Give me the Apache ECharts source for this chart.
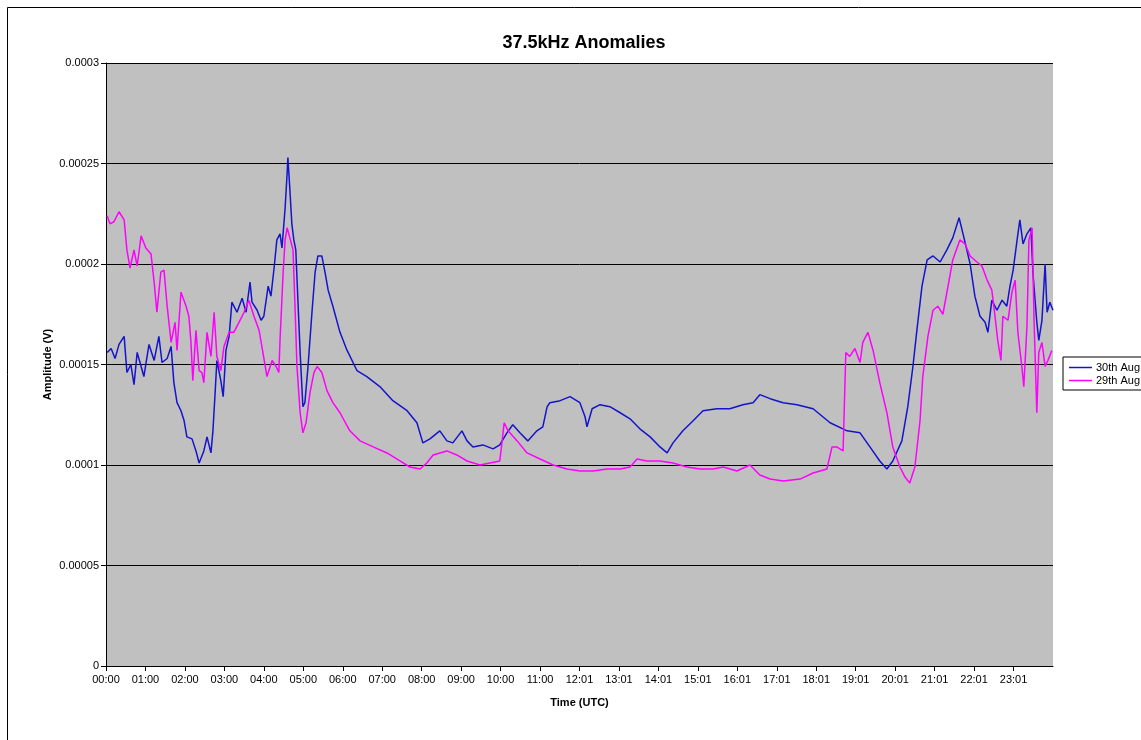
<!DOCTYPE html>
<html>
<head>
<meta charset="utf-8">
<script src="https://cdn.jsdelivr.net/npm/echarts@6/dist/echarts.min.js"></script>
<style>
html,body{margin:0;padding:0;background:#fff;}
#chart{width:1141px;height:740px;}
</style>
</head>
<body>
<div id="chart"></div>
<script>
// Tick labels
var xTickLabels = ['00:00','01:00','02:00','03:00','04:00','05:00','06:00','07:00','08:00','09:00','10:00','11:00',
  '12:01','13:01','14:01','15:01','16:01','17:01','18:01','19:01','20:01','21:01','22:01','23:01'];
var yTickLabels = ['0','0.00005','0.0001','0.00015','0.0002','0.00025','0.0003'];

// 30th Aug: time (hours UTC) and amplitude (microvolts)
var aug30Time = [0.03,0.13,0.23,0.33,0.46,0.53,0.63,0.71,0.79,0.89,0.96,1.09,1.22,1.34,1.42,1.55,1.65,1.72,1.80,1.90,
  1.98,2.05,2.18,2.28,2.36,2.48,2.56,2.66,2.71,2.76,2.81,2.91,2.97,3.04,3.12,3.19,3.32,3.45,3.55,3.65,
  3.70,3.83,3.93,4.00,4.11,4.18,4.26,4.33,4.41,4.46,4.54,4.59,4.61,4.66,4.71,4.76,4.81,4.87,4.92,4.99,
  5.04,5.12,5.22,5.30,5.37,5.47,5.55,5.63,5.75,5.93,6.11,6.36,6.61,6.94,7.27,7.63,7.88,8.03,8.21,8.46,
  8.64,8.79,9.02,9.15,9.30,9.55,9.81,9.98,10.16,10.31,10.49,10.69,10.92,11.07,11.18,11.25,11.51,11.76,12.01,12.14,
  12.19,12.32,12.52,12.77,13.03,13.28,13.53,13.79,14.04,14.22,14.37,14.62,14.88,15.13,15.48,15.81,16.14,16.40,16.57,16.83,
  17.16,17.51,17.92,18.35,18.78,19.11,19.36,19.61,19.79,19.94,20.17,20.32,20.45,20.55,20.68,20.81,20.96,21.14,21.31,21.46,
  21.62,21.72,21.90,22.02,22.15,22.28,22.35,22.45,22.58,22.71,22.83,22.91,22.99,23.09,23.16,23.24,23.34,23.44,23.49,23.59,
  23.64,23.72,23.80,23.85,23.92,24.00];
var aug30Amp = [156,158,153,160,164,146,150,140,156,149,144,160,152,164,151,153,159,141,131,127,
  122,114,113,107,101,107,114,106,117,134,152,142,134,157,164,181,176,183,176,191,
  181,177,172,174,189,184,198,212,215,208,228,245,253,237,220,212,207,179,156,129,
  131,149,176,196,204,204,196,187,179,166,157,147,144,139,132,127,121,111,113,117,
  112,111,117,112,109,110,108,110,116,120,116,112,117,119,129,131,132,134,131,124,
  119,128,130,129,126,123,118,114,109,106,111,117,122,127,128,128,130,131,135,133,
  131,130,128,121,117,116,109,102,98,102,112,129,149,167,189,202,204,201,207,213,
  223,215,200,184,174,171,166,182,177,182,179,189,197,212,222,210,215,218,196,171,
  162,172,200,176,181,177];

// 29th Aug: time (hours UTC) and amplitude (microvolts)
var aug29Time = [0.03,0.10,0.20,0.33,0.46,0.53,0.61,0.71,0.79,0.89,1.01,1.14,1.22,1.29,1.39,1.47,1.55,1.65,1.75,1.80,
  1.90,2.03,2.10,2.15,2.20,2.28,2.36,2.43,2.48,2.56,2.66,2.74,2.81,2.91,2.99,3.12,3.24,3.37,3.50,3.62,
  3.75,3.88,3.95,4.08,4.21,4.31,4.38,4.41,4.49,4.54,4.59,4.66,4.74,4.79,4.84,4.92,4.99,5.07,5.17,5.27,
  5.35,5.47,5.60,5.75,5.93,6.18,6.44,6.77,7.12,7.45,7.70,7.96,8.13,8.29,8.64,8.89,9.15,9.48,9.73,9.98,
  10.04,10.09,10.19,10.42,10.67,11.00,11.33,11.68,12.01,12.34,12.70,13.03,13.28,13.46,13.71,14.04,14.37,14.72,15.05,15.38,
  15.64,15.99,16.32,16.57,16.83,17.16,17.59,17.92,18.27,18.40,18.52,18.68,18.75,18.85,18.98,19.11,19.18,19.31,19.44,19.61,
  19.79,19.94,20.12,20.25,20.37,20.50,20.63,20.70,20.83,20.96,21.08,21.21,21.34,21.46,21.64,21.77,21.90,22.07,22.20,22.33,
  22.45,22.53,22.60,22.68,22.73,22.86,22.96,23.04,23.11,23.21,23.26,23.34,23.39,23.47,23.52,23.59,23.64,23.72,23.80,23.87,
  23.97];
var aug29Amp = [224,220,221,226,222,207,198,207,199,214,208,205,191,176,196,197,179,161,171,157,
  186,179,174,162,142,167,147,146,141,166,154,176,154,147,159,166,166,171,176,182,
  174,167,159,144,152,149,146,162,196,212,218,213,207,179,149,126,116,121,136,146,
  149,146,137,131,126,117,112,109,106,102,99,98,101,105,107,105,102,100,101,102,
  112,121,117,112,106,103,100,98,97,97,98,98,99,103,102,102,101,99,98,98,
  99,97,100,95,93,92,93,96,98,109,109,107,156,154,158,151,161,166,157,141,
  126,109,99,94,91,99,122,144,164,177,179,175,189,202,212,210,204,201,199,192,
  187,174,162,152,174,172,186,192,166,149,139,169,212,218,172,126,156,161,149,152,
  157];

function pairs(t, v) { return t.map(function (x, i) { return [x, v[i]]; }); }

var chart = echarts.init(document.getElementById('chart'), null, {renderer: 'canvas'});
var font = 'Arial, "Liberation Sans", sans-serif';
chart.setOption({
  backgroundColor: '#ffffff',
  animation: false,
  graphic: [{
    type: 'rect', x: 0, y: 0, z: -10, silent: true,
    shape: {x: 7.5, y: 7.5, width: 1200, height: 760},
    style: {fill: 'none', stroke: '#000', lineWidth: 1}
  }],
  title: {
    text: '37.5kHz Anomalies',
    left: 579, top: 29, textAlign: 'center',
    textStyle: {fontFamily: font, fontSize: 18, fontWeight: 'bold', color: '#000'}
  },
  legend: {
    orient: 'vertical', left: 1063, top: 357,
    data: ['30th Aug', '29th Aug'],
    icon: 'rect', itemWidth: 23, itemHeight: 1.5, itemGap: 2,
    padding: [5, 8, 4, 6],
    borderColor: '#000', borderWidth: 1, backgroundColor: '#fff',
    textStyle: {fontFamily: font, fontSize: 11, color: '#000', padding: [0, 0, 0, -1]}
  },
  grid: {left: 106, right: 88, top: 63, bottom: 74, show: true, backgroundColor: '#C0C0C0', borderWidth: 0},
  xAxis: {
    type: 'value', min: 0, max: 24, interval: 1,
    name: 'Time (UTC)', nameLocation: 'middle', nameGap: 31,
    nameTextStyle: {fontFamily: font, fontSize: 11, fontWeight: 'bold', color: '#000'},
    axisLine: {show: true, lineStyle: {color: '#000', width: 1}},
    axisTick: {show: true, length: 5, lineStyle: {color: '#000'}},
    splitLine: {show: false},
    axisLabel: {
      fontFamily: font, fontSize: 11, color: '#000', margin: 8, showMaxLabel: false,
      formatter: function (v) { var i = Math.round(v); return i < xTickLabels.length ? xTickLabels[i] : ''; }
    }
  },
  yAxis: {
    type: 'value', min: 0, max: 300, interval: 50,
    name: 'Amplitude (V)', nameLocation: 'middle', nameGap: 53, nameMoveOverlap: false,
    nameTextStyle: {fontFamily: font, fontSize: 11, fontWeight: 'bold', color: '#000'},
    axisLine: {show: true, lineStyle: {color: '#000', width: 1}},
    axisTick: {show: true, length: 5, lineStyle: {color: '#000'}},
    splitLine: {show: true, lineStyle: {color: '#000', width: 1}},
    axisLabel: {
      fontFamily: font, fontSize: 11, color: '#000', margin: 7,
      formatter: function (v) { return yTickLabels[Math.round(v / 50)]; }
    }
  },
  series: [
    {name: '30th Aug', type: 'line', data: pairs(aug30Time, aug30Amp), showSymbol: false, symbol: 'none',
     color: '#1414CC', lineStyle: {color: '#1414CC', width: 1.5}},
    {name: '29th Aug', type: 'line', data: pairs(aug29Time, aug29Amp), showSymbol: false, symbol: 'none',
     color: '#FF00FF', lineStyle: {color: '#FF00FF', width: 1.5}}
  ]
});
</script>
</body>
</html>
